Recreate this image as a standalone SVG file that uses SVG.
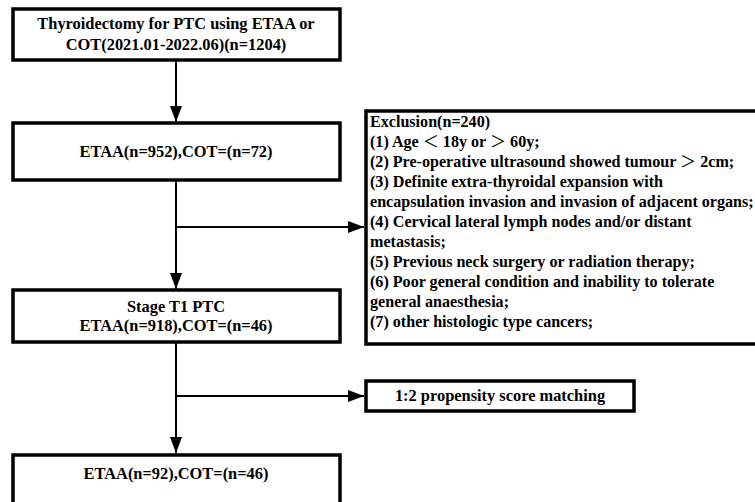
<svg xmlns="http://www.w3.org/2000/svg" width="755" height="502" viewBox="0 0 755 502">
<defs>
<marker id="ahl" viewBox="0 0 16 12" refX="16" refY="6" markerWidth="16" markerHeight="12" markerUnits="userSpaceOnUse" orient="auto">
<path d="M0,0 L16,6 L0,12 z" fill="#000"/>
</marker>
</defs>
<style>
.box{fill:#fff;stroke:#000;stroke-width:3.5}
.c{text-anchor:middle}
.ln{stroke:#000;stroke-width:2;fill:none}
.cjk{font-family:'Noto Sans CJK SC',sans-serif;font-weight:normal}
</style>
<rect width="755" height="502" fill="#fff"/>
<g id="connectors">
<line class="ln" x1="176" y1="60" x2="176" y2="122" marker-end="url(#ahl)"/>
<line class="ln" x1="176" y1="180" x2="176" y2="289" marker-end="url(#ahl)"/>
<line class="ln" x1="176" y1="227" x2="364" y2="227" marker-end="url(#ahl)"/>
<line class="ln" x1="176" y1="342" x2="176" y2="453" marker-end="url(#ahl)"/>
<line class="ln" x1="176" y1="396" x2="364" y2="396" marker-end="url(#ahl)"/>
</g>
<g font-family="Liberation Serif, Times New Roman, serif" font-weight="bold" font-size="16.4" fill="#000">
<g id="n1">
<rect class="box" x="13" y="9" width="327" height="51"/>
<text class="c" x="176" y="29">Thyroidectomy for PTC using ETAA or</text>
<text class="c" x="176" y="50">COT(2021.01-2022.06)(n=1204)</text>
</g>
<g id="n2">
<rect class="box" x="13" y="123" width="327" height="57"/>
<text class="c" x="176" y="157">ETAA(n=952),COT=(n=72)</text>
</g>
<g id="n3">
<rect class="box" x="13" y="290" width="327" height="52"/>
<text class="c" x="176" y="312">Stage T1 PTC</text>
<text class="c" x="176" y="331">ETAA(n=918),COT=(n=46)</text>
</g>
<g id="n4">
<rect class="box" x="13" y="455" width="327" height="60"/>
<text class="c" x="176" y="479">ETAA(n=92),COT=(n=46)</text>
</g>
<g id="excl" font-size="16.1">
<rect class="box" x="366" y="111" width="400" height="233"/>
<text x="370" y="127">Exclusion(n=240)</text>
<text x="370" y="147">(1) Age <tspan class="cjk">＜</tspan> 18y or <tspan class="cjk">＞</tspan> 60y;</text>
<text x="370" y="167">(2) Pre-operative ultrasound showed tumour <tspan class="cjk">＞</tspan> 2cm;</text>
<text x="370" y="187">(3) Definite extra-thyroidal expansion with</text>
<text x="370" y="207">encapsulation invasion and invasion of adjacent organs;</text>
<text x="370" y="227">(4) Cervical lateral lymph nodes and/or distant</text>
<text x="370" y="247">metastasis;</text>
<text x="370" y="267">(5) Previous neck surgery or radiation therapy;</text>
<text x="370" y="287">(6) Poor general condition and inability to tolerate</text>
<text x="370" y="307">general anaesthesia;</text>
<text x="370" y="327">(7) other histologic type cancers;</text>
</g>
<g id="psm">
<rect class="box" x="366" y="381" width="268" height="30"/>
<text class="c" x="500" y="401">1:2 propensity score matching</text>
</g>
</g>
</svg>
